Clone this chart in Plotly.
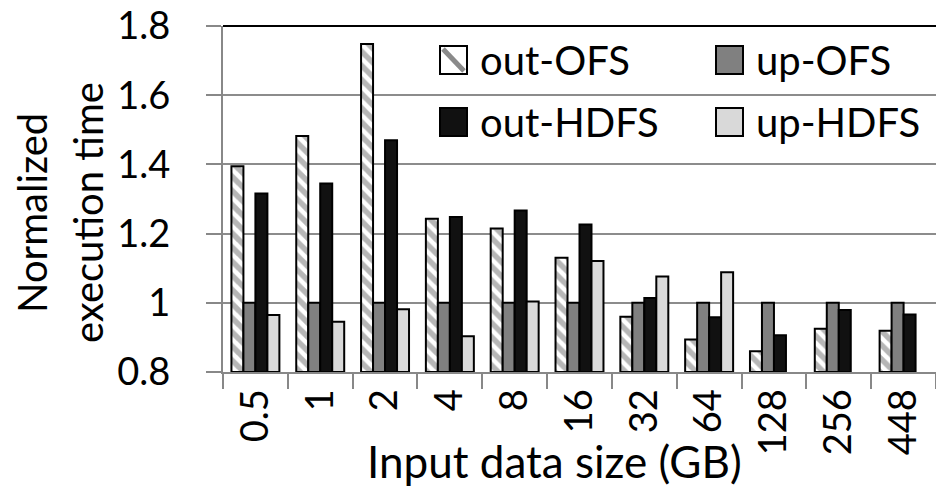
import plotly.graph_objects as go

categories = ["0.5", "1", "2", "4", "8", "16", "32", "64", "128", "256", "448"]
out_ofs = [1.395, 1.482, 1.748, 1.243, 1.215, 1.13, 0.96, 0.894, 0.86, 0.925, 0.919]
up_ofs = [1.0, 1.0, 1.0, 1.0, 1.0, 1.0, 1.0, 1.0, 1.0, 1.0, 1.0]
out_hdfs = [1.316, 1.345, 1.47, 1.248, 1.267, 1.226, 1.014, 0.958, 0.906, 0.979, 0.966]
up_hdfs = [0.965, 0.945, 0.981, 0.903, 1.004, 1.121, 1.076, 1.088, None, None, None]
series_names = ["out-OFS", "up-OFS", "out-HDFS", "up-HDFS"]
y_ticks = [0.8, 1.0, 1.2, 1.4, 1.6, 1.8]
y_tick_labels = ["0.8", "1", "1.2", "1.4", "1.6", "1.8"]
y_title_lines = ["Normalized", "execution time"]
x_title = "Input data size (GB)"

FONT = "Lato"
FS = 40
TICK_FS = 38
BASE = 0.8

line = dict(color="black", width=2)
fig = go.Figure()
fig.add_trace(go.Bar(x=categories, y=[v - BASE for v in out_ofs], base=BASE, name=series_names[0],
                     marker=dict(color="white", line=line,
                                 pattern=dict(shape="\\", fgcolor="#6e6e6e", bgcolor="white",
                                              size=10, solidity=0.55))))
fig.add_trace(go.Bar(x=categories, y=[v - BASE for v in up_ofs], base=BASE, name=series_names[1],
                     marker=dict(color="#808080", line=line)))
fig.add_trace(go.Bar(x=categories, y=[v - BASE for v in out_hdfs], base=BASE, name=series_names[2],
                     marker=dict(color="#111111", line=line)))
fig.add_trace(go.Bar(x=categories, y=[(v - BASE) if v is not None else None for v in up_hdfs],
                     base=BASE, name=series_names[3],
                     marker=dict(color="#d9d9d9", line=line)))

W, H = 936, 487
L, R, T, B = 223, 0, 26, 487 - 372
pw, ph = W - L - R, H - T - B

def px_x(x):
    return (x - L) / pw

def px_y(y):
    return (H - B - y) / ph

shapes = []
annotations = []
# top border
shapes.append(dict(type="line", xref="paper", yref="paper", x0=0, x1=1, y0=1, y1=1,
                   line=dict(color="black", width=2)))
# manual legend
legend_items = [
    (series_names[0], 440, 60, "white", True),
    (series_names[2], 440, 122, "#111111", False),
    (series_names[1], 716, 60, "#808080", False),
    (series_names[3], 716, 122, "#d9d9d9", False),
]
for name, sx, cy, col, hatch in legend_items:
    shapes.append(dict(type="rect", xref="paper", yref="paper",
                       x0=px_x(sx), x1=px_x(sx + 27), y0=px_y(cy + 14), y1=px_y(cy - 14),
                       fillcolor=col, line=dict(color="black", width=2)))
    if hatch:
        shapes.append(dict(type="line", xref="paper", yref="paper",
                           x0=px_x(sx + 3), x1=px_x(sx + 24), y0=px_y(cy - 11), y1=px_y(cy + 11),
                           line=dict(color="#8a8a8a", width=5)))
    annotations.append(dict(text=name, xref="paper", yref="paper", x=px_x(sx + 38), y=px_y(cy),
                            xanchor="left", yanchor="middle", showarrow=False,
                            font=dict(family=FONT, size=FS, color="black")))
# y-axis title, two lines
for txt, cx in zip(y_title_lines, [32, 88]):
    annotations.append(dict(text=txt, xref="paper", yref="paper",
                            x=px_x(cx), y=px_y(213), textangle=-90, xanchor="center",
                            yanchor="middle", showarrow=False,
                            font=dict(family=FONT, size=FS, color="black")))
# x-axis title
annotations.append(dict(text=x_title, xref="paper", yref="paper",
                        x=px_x(554), y=px_y(461), xanchor="center", yanchor="middle",
                        showarrow=False, font=dict(family=FONT, size=44, color="black")))

fig.update_layout(
    width=W, height=H,
    margin=dict(l=L, r=R, t=T, b=B),
    paper_bgcolor="white", plot_bgcolor="white",
    barmode="group", bargap=0.26, bargroupgap=0,
    showlegend=False,
    font=dict(family=FONT, size=FS, color="black"),
    shapes=shapes, annotations=annotations,
)
fig.update_xaxes(
    automargin=False, ticklabeloverflow="allow",
    showline=True, linecolor="#888888", linewidth=2,
    ticks="outside", tickson="boundaries", ticklen=15, tickcolor="#888888", tickwidth=2,
    tickangle=-90, tickfont=dict(family=FONT, size=TICK_FS),
    showgrid=False,
)
fig.update_yaxes(
    automargin=False, ticklabeloverflow="allow",
    range=[0.8, 1.8], tickvals=y_ticks, ticktext=y_tick_labels,
    showline=True, linecolor="#888888", linewidth=2, mirror=True,
    ticks="outside", ticklen=15, tickcolor="#888888", tickwidth=2,
    ticklabelstandoff=28,
    showgrid=True, gridcolor="#8c8c8c", gridwidth=2,
    tickfont=dict(family=FONT, size=TICK_FS),
    zeroline=False,
)

fig.write_html("out.html", config={"displayModeBar": False},
               post_script="document.body.style.margin='0';document.body.style.overflow='hidden';")
